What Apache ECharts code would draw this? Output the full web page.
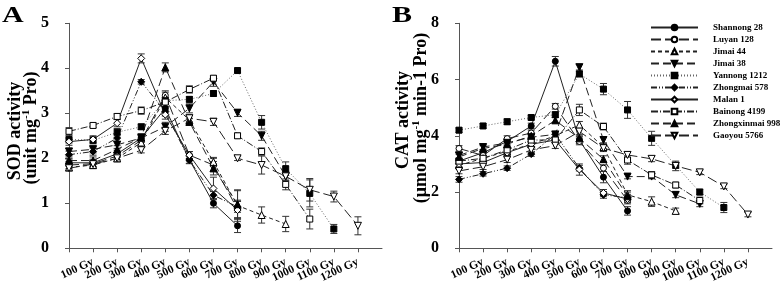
<!DOCTYPE html>
<html><head><meta charset="utf-8">
<script src="https://cdn.jsdelivr.net/npm/echarts@6/dist/echarts.min.js"></script>
<style>html,body{margin:0;padding:0;background:#fff}#c{width:780px;height:287px}</style>
</head><body><div id="c"></div>
<script>
// ---------- data ----------
const doseLabels = ['100 Gy','200 Gy','300 Gy','400 Gy','500 Gy','600 Gy','700 Gy','800 Gy','900 Gy','1000 Gy','1100 Gy','1200 Gy'];
const categories = [''].concat(doseLabels, ['']);
const varieties = ['Shannong 28','Luyan 128','Jimai 44','Jimai 38','Yannong 1212','Zhongmai 578','Malan 1','Bainong 4199','Zhongxinmai 998','Gaoyou 5766'];
const sodTicks = [0,1,2,3,4,5];
const catTicks = [0,2,4,6,8];

// Panel A: SOD activity (mean)
const shannong28A    = [1.90,1.90,2.10,2.45,3.11,1.97,1.00,0.50];
const luyan128A      = [1.85,1.88,2.05,2.40,3.40,2.07,1.85,0.87];
const jimai44A       = [1.80,1.85,2.00,2.35,3.35,2.85,1.92,0.95,0.74,0.54];
const jimai38A       = [2.15,2.20,2.30,2.45,2.70,3.11,3.70,3.01,2.50,1.60];
const yannong1212A   = [2.42,2.40,2.58,2.70,3.28,3.31,3.44,3.95,2.80,1.77,1.22,0.43];
const zhongmai578A   = [2.08,2.15,2.45,3.70,3.04,1.96,1.18,0.92];
const malan1A        = [2.37,2.42,2.78,4.22,2.97,2.07,1.33,0.85];
const bainong4199A   = [2.60,2.73,2.93,3.06,3.25,3.53,3.78,2.50,2.15,1.42,0.65];
const zhongxinmai998A= [1.95,1.95,2.20,2.46,4.02,2.81,1.78,0.98];
const gaoyou5766A    = [1.78,1.87,2.00,2.18,2.61,2.89,2.81,2.00,1.85,1.60,1.30,1.15,0.50];
// Panel A: error (SD)
const shannong28AErr    = [0.08,0.08,0.08,0.10,0.10,0.08,0.10,0.15];
const luyan128AErr      = [0.08,0.08,0.08,0.10,0.10,0.08,0.15,0.20];
const jimai44AErr       = [0.08,0.08,0.08,0.10,0.12,0.10,0.10,0.35,0.18,0.17];
const jimai38AErr       = [0.08,0.08,0.08,0.08,0.10,0.10,0.10,0.08,0.10,0.10];
const yannong1212AErr   = [0.08,0.08,0.08,0.06,0.08,0.06,0.06,0.05,0.15,0.15,0.30,0.10];
const zhongmai578AErr   = [0.08,0.08,0.08,0.05,0.10,0.08,0.08,0.12];
const malan1AErr        = [0.08,0.08,0.08,0.10,0.10,0.08,0.25,0.20];
const bainong4199AErr   = [0.08,0.05,0.06,0.08,0.10,0.08,0.06,0.06,0.08,0.12,0.22];
const zhongxinmai998AErr= [0.08,0.08,0.08,0.08,0.10,0.08,0.15,0.30];
const gaoyou5766AErr    = [0.06,0.06,0.06,0.06,0.08,0.08,0.08,0.05,0.20,0.10,0.25,0.12,0.20];

// Panel B: CAT activity (mean)
const shannong28B    = [3.10,3.40,3.80,4.35,6.65,3.85,2.53,1.33];
const luyan128B      = [3.55,3.30,3.90,4.10,5.05,3.80,2.85,1.70];
const jimai44B       = [2.95,3.20,3.45,3.70,4.00,4.39,3.60,1.90,1.66,1.33];
const jimai38B       = [3.30,3.60,3.75,3.95,4.05,6.44,3.85,2.55,2.55,1.90,1.58];
const yannong1212B   = [4.20,4.35,4.50,4.65,4.75,6.20,5.66,4.92,3.91,2.95,2.00,1.45];
const zhongmai578B   = [2.45,2.65,2.85,3.35,4.05,2.85,1.90,1.80];
const malan1B        = [3.00,3.05,3.40,3.70,3.85,2.80,1.97,1.75];
const bainong4199B   = [3.10,3.20,3.50,3.85,3.85,4.92,4.33,3.14,2.61,2.25,1.70];
const zhongxinmai998B= [3.25,3.55,3.70,4.00,4.55,3.91,3.17,1.85];
const gaoyou5766B    = [2.75,2.90,3.15,3.50,3.65,4.15,3.56,3.32,3.18,2.93,2.70,2.20,1.20];
// Panel B: error (SD)
const shannong28BErr    = [0.10,0.10,0.10,0.10,0.17,0.12,0.20,0.15];
const luyan128BErr      = [0.10,0.10,0.10,0.10,0.10,0.12,0.12,0.12];
const jimai44BErr       = [0.10,0.10,0.10,0.10,0.10,0.12,0.12,0.15,0.17,0.10];
const jimai38BErr       = [0.10,0.10,0.10,0.10,0.10,0.10,0.10,0.08,0.08,0.10,0.10];
const yannong1212BErr   = [0.08,0.08,0.10,0.08,0.10,0.10,0.20,0.30,0.25,0.10,0.10,0.18];
const zhongmai578BErr   = [0.10,0.08,0.08,0.08,0.10,0.10,0.12,0.12];
const malan1BErr        = [0.10,0.10,0.10,0.10,0.10,0.20,0.12,0.12];
const bainong4199BErr   = [0.10,0.10,0.10,0.10,0.10,0.20,0.12,0.15,0.12,0.10,0.12];
const zhongxinmai998BErr= [0.10,0.10,0.10,0.10,0.10,0.12,0.12,0.15];
const gaoyou5766BErr    = [0.10,0.10,0.10,0.10,0.10,0.12,0.12,0.10,0.10,0.17,0.08,0.08,0.08];

const meansA = [shannong28A,luyan128A,jimai44A,jimai38A,yannong1212A,zhongmai578A,malan1A,bainong4199A,zhongxinmai998A,gaoyou5766A];
const errsA  = [shannong28AErr,luyan128AErr,jimai44AErr,jimai38AErr,yannong1212AErr,zhongmai578AErr,malan1AErr,bainong4199AErr,zhongxinmai998AErr,gaoyou5766AErr];
const meansB = [shannong28B,luyan128B,jimai44B,jimai38B,yannong1212B,zhongmai578B,malan1B,bainong4199B,zhongxinmai998B,gaoyou5766B];
const errsB  = [shannong28BErr,luyan128BErr,jimai44BErr,jimai38BErr,yannong1212BErr,zhongmai578BErr,malan1BErr,bainong4199BErr,zhongxinmai998BErr,gaoyou5766BErr];

// ---------- styles ----------
const SERIF = 'Liberation Serif, Times New Roman, serif';
const styles = [
  {symbol:'circle',   size:6, fill:'#000', dash:'solid'},
  {symbol:'circle',   size:6, fill:'#fff', dash:[10,4]},
  {symbol:'triangle', size:7, fill:'#fff', dash:[4,3]},
  {symbol:'triangle', size:7, fill:'#000', dash:[8,4], rot:180},
  {symbol:'rect',     size:6, fill:'#000', dash:[1,2], color:'#666'},
  {symbol:'diamond',  size:7, fill:'#000', dash:[6,2,1,2,1,2]},
  {symbol:'diamond',  size:7, fill:'#fff', dash:'solid'},
  {symbol:'rect',     size:6, fill:'#fff', dash:[7,2,1,2]},
  {symbol:'triangle', size:7, fill:'#000', dash:[8,4]},
  {symbol:'triangle', size:7, fill:'#fff', dash:[10,4], rot:180}
];

function lineSeries(panel, means){
  return means.map((arr,i)=>{
    const s = styles[i];
    return {
      type:'line', name:varieties[i], xAxisIndex:panel, yAxisIndex:panel,
      data:arr, symbol:s.symbol, symbolSize:s.size, symbolRotate:s.rot||0,
      showSymbol:true, z:3,
      lineStyle:{color:s.color||'#222', width:1, type:s.dash},
      itemStyle:{color:s.fill, borderColor:'#000', borderWidth:1},
      emphasis:{disabled:true}
    };
  });
}
function errSeries(panel, means, errs){
  const data = [];
  means.forEach((arr,i)=>arr.forEach((v,j)=>{ data.push([j, v-errs[i][j], v+errs[i][j]]); }));
  return {
    type:'custom', xAxisIndex:panel, yAxisIndex:panel, z:2, silent:true,
    encode:{x:0, y:[1,2]}, data:data,
    renderItem:function(params, api){
      const x = api.value(0);
      const lo = api.coord([x, api.value(1)]);
      const hi = api.coord([x, api.value(2)]);
      const w = 3.5, st = {stroke:'#333', lineWidth:1};
      return {type:'group', children:[
        {type:'line', shape:{x1:hi[0], y1:hi[1], x2:lo[0], y2:lo[1]}, style:st},
        {type:'line', shape:{x1:hi[0]-w, y1:hi[1], x2:hi[0]+w, y2:hi[1]}, style:st},
        {type:'line', shape:{x1:lo[0]-w, y1:lo[1], x2:lo[0]+w, y2:lo[1]}, style:st}
      ]};
    }
  };
}
function xAxis(panel){
  return {
    type:'category', gridIndex:panel, data:categories, boundaryGap:false,
    axisLine:{lineStyle:{color:'#555', width:1}},
    axisTick:{length:4, interval:function(idx){ return idx <= doseLabels.length; }, lineStyle:{color:'#555'}},
    axisLabel:{interval:0, rotate:25, margin:13, fontFamily:SERIF, fontWeight:'bold', fontSize:11.5, color:'#000'},
    splitLine:{show:false}
  };
}
function yAxis(panel, ticks){
  return {
    type:'value', gridIndex:panel, min:ticks[0], max:ticks[ticks.length-1], interval:ticks[1]-ticks[0],
    axisLine:{show:true, lineStyle:{color:'#555', width:1}},
    axisTick:{show:true, length:4, lineStyle:{color:'#555'}},
    axisLabel:{margin:20, fontFamily:SERIF, fontWeight:'bold', fontSize:16, color:'#000'},
    splitLine:{show:false}
  };
}
const tStyle = {fontFamily:SERIF, fontWeight:'bold', fontSize:18, lineHeight:20, fill:'#000', color:'#000'};
const sStyle = {fontFamily:SERIF, fontWeight:'bold', fontSize:11, lineHeight:11, verticalAlign:'top', fill:'#000', color:'#000'};
function vText(x, y, text){
  return {type:'text', x:x, y:y, rotation:Math.PI/2, silent:true,
    style:{text:text, align:'center', verticalAlign:'middle', textAlign:'center', textVerticalAlign:'middle',
      rich:{t:tStyle, s:sStyle}, fill:'#000'}};
}
function letter(x, y, t){
  return {type:'text', x:x, y:y, scaleX:1.25, silent:true,
    style:{text:t, font:'bold 24px ' + SERIF, fill:'#000', align:'left', verticalAlign:'top', textAlign:'left', textVerticalAlign:'top'}};
}

const chart = echarts.init(document.getElementById('c'), null, {renderer:'canvas'});
chart.setOption({
  animation:false,
  backgroundColor:'#fff',
  grid:[
    {left:69, top:23.3, width:313, height:225},
    {left:459, top:23.3, width:313, height:225}
  ],
  xAxis:[xAxis(0), xAxis(1)],
  yAxis:[yAxis(0, sodTicks), yAxis(1, catTicks)],
  legend:{
    data:varieties, orient:'vertical', left:645, top:18, itemWidth:47, itemHeight:7, itemGap:3,
    selectedMode:false,
    textStyle:{fontFamily:SERIF, fontWeight:'bold', fontSize:9, lineHeight:8, color:'#000', padding:[0,0,0,10]}
  },
  graphic:[
    letter(2, 4, 'A'), letter(392, 4, 'B'),
    vText(15, 131, '{t|SOD activity}'),
    vText(31, 128, '{t|(unit mg}{s|-1}{t| Pro)}'),
    vText(403, 120, '{t|CAT activity}'),
    vText(421, 118, '{t|(μmol mg}{s|-1}{t| min-1 Pro)}')
  ],
  series:[].concat(
    [errSeries(0, meansA, errsA), errSeries(1, meansB, errsB)],
    lineSeries(0, meansA), lineSeries(1, meansB)
  )
});
</script></body></html>
